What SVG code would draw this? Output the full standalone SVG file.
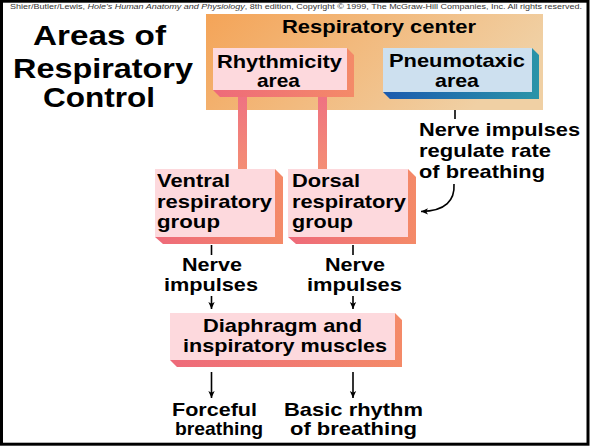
<svg xmlns="http://www.w3.org/2000/svg" width="590" height="447" viewBox="0 0 590 447">
<defs>
<style>
text{font-family:"Liberation Sans",Arial,sans-serif;font-weight:bold;fill:#000;}
.t19{font-size:19px;}
.ln{stroke:#000;stroke-width:1.6;fill:none;}
.pinkface{fill:#FDD9DD;}
.blueface{fill:#CDE0EF;}
</style>
<linearGradient id="orange" x1="0" y1="0" x2="1" y2="0.3">
<stop offset="0" stop-color="#F4A458"/>
<stop offset="1" stop-color="#F0D0A4"/>
</linearGradient>
<linearGradient id="pinkext" x1="0" y1="0" x2="1" y2="0">
<stop offset="0" stop-color="#EE6A7A"/>
<stop offset="1" stop-color="#F48A68"/>
</linearGradient>
<linearGradient id="blueext" x1="0" y1="0" x2="1" y2="0">
<stop offset="0" stop-color="#1B5AAE"/>
<stop offset="1" stop-color="#2A94A8"/>
</linearGradient>
<linearGradient id="bar" x1="0" y1="0" x2="0" y2="1">
<stop offset="0" stop-color="#EF7282"/>
<stop offset="1" stop-color="#F48E74"/>
</linearGradient>
<marker id="ah" viewBox="0 0 10 10" refX="10" refY="5" markerWidth="7" markerHeight="8" markerUnits="userSpaceOnUse" orient="auto">
<path d="M0,0.5 L10,5 L0,9.5 L2.5,5 z" fill="#000"/>
</marker>
</defs>
<rect x="0" y="0" width="590" height="447" fill="#fff"/>

<text x="10" y="8.5" font-size="8" textLength="572" lengthAdjust="spacingAndGlyphs" style="font-weight:normal;fill:#333">Shier/Butler/Lewis, <tspan font-style="italic">Hole's Human Anatomy and Physiology</tspan>, 8th edition, Copyright © 1999, The McGraw-Hill Companies, Inc.  All rights reserved.</text>

<g id="title">
<text x="33" y="45" font-size="28.5" textLength="133" lengthAdjust="spacingAndGlyphs">Areas of</text>
<text x="13" y="78" font-size="28.5" textLength="180" lengthAdjust="spacingAndGlyphs">Respiratory</text>
<text x="43" y="107" font-size="28.5" textLength="112" lengthAdjust="spacingAndGlyphs">Control</text>
</g>

<g id="respiratory-center">
<rect x="206" y="14" width="337" height="96" fill="url(#orange)"/>
<text x="282" y="33" class="t19" textLength="194" lengthAdjust="spacingAndGlyphs">Respiratory center</text>
</g>

<g id="connectors">
<rect x="238" y="96" width="9" height="74" fill="url(#bar)"/>
<rect x="318" y="96" width="9" height="74" fill="url(#bar)"/>
<line class="ln" x1="455" y1="110" x2="455" y2="119"/>
<path class="ln" d="M454,184 C455,200 446,211 421,211.5" marker-end="url(#ah)"/>
<line class="ln" x1="211.5" y1="245" x2="211.5" y2="255"/>
<line class="ln" x1="353" y1="245" x2="353" y2="255"/>
<line class="ln" x1="211.5" y1="296" x2="211.5" y2="309" marker-end="url(#ah)"/>
<line class="ln" x1="353" y1="296" x2="353" y2="309" marker-end="url(#ah)"/>
<line class="ln" x1="211.5" y1="372" x2="211.5" y2="398" marker-end="url(#ah)"/>
<line class="ln" x1="353" y1="372" x2="353" y2="398" marker-end="url(#ah)"/>
</g>

<g id="rhythmicity-area">
<polygon points="347,48 354,55 354,97 220,97 213,90 347,90" fill="url(#pinkext)"/>
<rect class="pinkface" x="213" y="48" width="134" height="42"/>
<text x="217" y="68" class="t19" textLength="125" lengthAdjust="spacingAndGlyphs">Rhythmicity</text>
<text x="257" y="87" class="t19" textLength="43" lengthAdjust="spacingAndGlyphs">area</text>
</g>

<g id="pneumotaxic-area">
<polygon points="532,48 539,55 539,99 390,99 383,92 532,92" fill="url(#blueext)"/>
<rect class="blueface" x="383" y="48" width="149" height="44"/>
<text x="389" y="67" class="t19" textLength="136" lengthAdjust="spacingAndGlyphs">Pneumotaxic</text>
<text x="435" y="87" class="t19" textLength="44" lengthAdjust="spacingAndGlyphs">area</text>
</g>

<g id="pneumotaxic-label">
<text x="419" y="136" class="t19" textLength="161" lengthAdjust="spacingAndGlyphs">Nerve impulses</text>
<text x="419" y="157" class="t19" textLength="132" lengthAdjust="spacingAndGlyphs">regulate rate</text>
<text x="419" y="178" class="t19" textLength="126" lengthAdjust="spacingAndGlyphs">of breathing</text>
</g>

<g id="ventral-group">
<polygon points="275,169 283,177 283,244 163,244 155,237 275,237" fill="url(#pinkext)"/>
<rect class="pinkface" x="155" y="169" width="120" height="68"/>
<text x="157" y="187" class="t19" textLength="73" lengthAdjust="spacingAndGlyphs">Ventral</text>
<text x="157" y="208" class="t19" textLength="115" lengthAdjust="spacingAndGlyphs">respiratory</text>
<text x="157" y="228" class="t19" textLength="63" lengthAdjust="spacingAndGlyphs">group</text>
</g>

<g id="dorsal-group">
<polygon points="408,169 416,177 416,244 296,244 288,237 408,237" fill="url(#pinkext)"/>
<rect class="pinkface" x="288" y="169" width="120" height="68"/>
<text x="292" y="187" class="t19" textLength="68" lengthAdjust="spacingAndGlyphs">Dorsal</text>
<text x="292" y="208" class="t19" textLength="114" lengthAdjust="spacingAndGlyphs">respiratory</text>
<text x="292" y="228" class="t19" textLength="61" lengthAdjust="spacingAndGlyphs">group</text>
</g>

<g id="ventral-impulses">
<text x="182" y="271" class="t19" textLength="60" lengthAdjust="spacingAndGlyphs">Nerve</text>
<text x="164" y="291" class="t19" textLength="94" lengthAdjust="spacingAndGlyphs">impulses</text>
</g>

<g id="dorsal-impulses">
<text x="325" y="271" class="t19" textLength="60" lengthAdjust="spacingAndGlyphs">Nerve</text>
<text x="307" y="291" class="t19" textLength="95" lengthAdjust="spacingAndGlyphs">impulses</text>
</g>

<g id="diaphragm">
<polygon points="395,313 402,320 402,367 177,367 170,360 395,360" fill="url(#pinkext)"/>
<rect class="pinkface" x="170" y="313" width="225" height="47"/>
<text x="203" y="332" class="t19" textLength="159" lengthAdjust="spacingAndGlyphs">Diaphragm and</text>
<text x="183" y="352" class="t19" textLength="204" lengthAdjust="spacingAndGlyphs">inspiratory muscles</text>
</g>

<g id="forceful-breathing">
<text x="172" y="416" class="t19" textLength="85" lengthAdjust="spacingAndGlyphs">Forceful</text>
<text x="175" y="435" class="t19" textLength="88" lengthAdjust="spacingAndGlyphs">breathing</text>
</g>

<g id="basic-rhythm">
<text x="284" y="416" class="t19" textLength="139" lengthAdjust="spacingAndGlyphs">Basic rhythm</text>
<text x="290" y="435" class="t19" textLength="127" lengthAdjust="spacingAndGlyphs">of breathing</text>
</g>

<rect x="1.5" y="1.2" width="586.5" height="443" fill="none" stroke="#000" stroke-width="3"/>
</svg>
